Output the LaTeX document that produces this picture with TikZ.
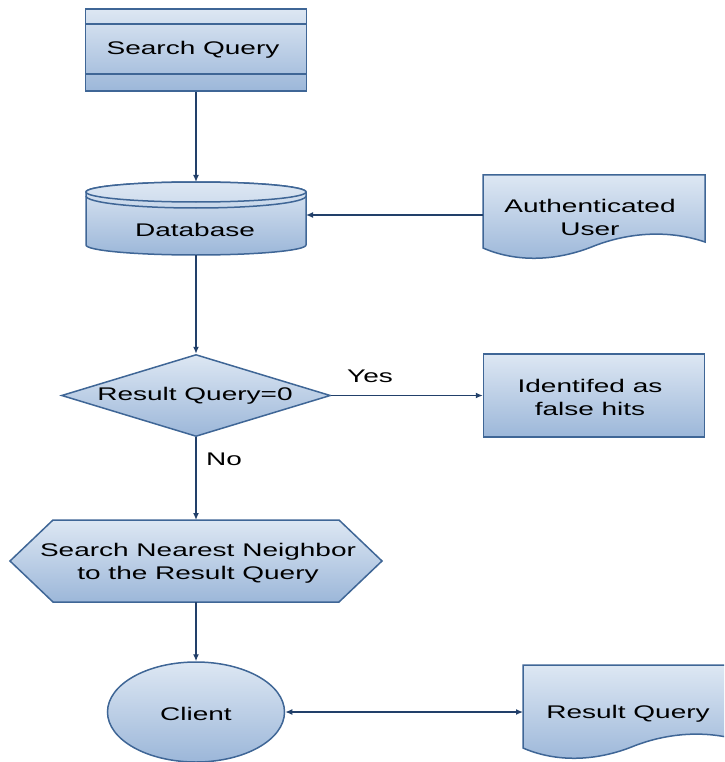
\documentclass[tikz,border=0pt]{standalone}
\usepackage{fontspec}
\setmainfont{Liberation Sans}[FakeStretch=1.53]
\usetikzlibrary{shapes.geometric,arrows.meta,calc}
\definecolor{fillTop}{HTML}{DDE7F3}
\definecolor{fillBot}{HTML}{9CB7D9}
\definecolor{edgecol}{HTML}{3F6696}
\definecolor{conncol}{HTML}{22406A}
\tikzset{
 shapestyle/.style={draw=edgecol, line width=1.5pt, top color=fillTop, bottom color=fillBot},
 edgeline/.style={draw=edgecol, line width=1.5pt},
 lbl/.style={font=\fontsize{18.3}{23}\selectfont, align=center, text=black, inner sep=0, yshift=-2pt},
 ghost/.style={inner sep=0, outer sep=0},
 tip/.tip={Latex[length=7pt,width=6pt]},
 connector/.style={draw=conncol, line width=1.3pt, -tip},
}
\begin{document}
\begin{tikzpicture}[x=1pt,y=-1pt]
\useasboundingbox (0,0) rectangle (724,762);
\clip (0,0) rectangle (724,762);

% Search Query
\node[shapestyle, rectangle, minimum width=221pt, minimum height=82pt, inner sep=0] (sq) at (196,50) {};
\draw[edgeline] ($(sq.north west)+(0,16)$) -- ($(sq.north east)+(0,16)$);
\draw[edgeline] ($(sq.north west)+(0,66)$) -- ($(sq.north east)+(0,66)$);
\node[lbl] (sqt) at (193,48) {Search Query};

% Database
\node[ghost, minimum width=220pt, minimum height=73pt] (db) at (196,218.5) {};
\path[shapestyle] (86,192) -- (86,245) arc[start angle=180, end angle=0, x radius=110, y radius=10] -- (306,192) arc[start angle=0, end angle=-180, x radius=110, y radius=10] -- cycle;
\path[edgeline, top color=fillTop, bottom color=fillTop!80!fillBot] (196,192) ellipse[x radius=110, y radius=10];
\draw[edgeline] (86,196) arc[start angle=180, end angle=0, x radius=110, y radius=12];
\node[lbl] (dbt) at (195,228) {Database};

% Authenticated User (document)
\node[ghost, minimum width=222pt, minimum height=80pt] (au) at (594,215) {};
\path[shapestyle] (483,175) -- (705,175) -- (705,242) .. controls (670,230) and (630,232) .. (594,246) .. controls (555,262) and (515,262) .. (483,248) -- cycle;
\node[lbl] (aut) at (590,215) {Authenticated\\User};

% Decision
\node[diamond, shapestyle, minimum width=269pt, minimum height=82pt, inner sep=0] (dq) at (196,395.5) {};
\node[lbl] (dqt) at (195,394) {Result Query=0};

% Identified
\node[rectangle, shapestyle, minimum width=221pt, minimum height=83pt, inner sep=0] (id) at (594,395.5) {};
\node[lbl] (idt) at (590,395) {Identifed as\\false hits};

% Hexagon
\node[ghost, minimum width=372pt, minimum height=82pt] (hx) at (196,561) {};
\path[shapestyle] (10,561) -- (53,520) -- (339,520) -- (382,561) -- (339,602) -- (53,602) -- cycle;
\node[lbl] (hxt) at (198,561) {Search Nearest Neighbor\\to the Result Query};

% Client
\node[ellipse, shapestyle, minimum width=177pt, minimum height=100pt, inner sep=0] (cl) at (196,712) {};
\node[lbl] (clt) at (196,712) {Client};

% Result Query (document)
\node[ghost, minimum width=222pt, minimum height=96pt] (rq) at (634,712) {};
\path[shapestyle] (523,665) -- (745,665) -- (745,742) .. controls (710,730) and (670,732) .. (634,746) .. controls (595,762) and (555,762) .. (523,748) -- cycle;
\node[lbl] (rqt) at (628,712) {Result Query};

% Connectors
\draw[connector] (sq.south) -- (db.north);
\draw[connector] (au.west) -- (au.west -| db.east);
\draw[connector] (db.south) -- (dq.north);
\draw[connector] (dq.east) -- (id.west);
\node[lbl] (yes) at (370,374) {Yes};
\draw[connector] (dq.south) -- (hx.north);
\node[lbl] (no) at (224,457) {No};
\draw[connector] (hx.south) -- (cl.north);
\draw[connector, tip-tip] (cl.east) -- (cl.east -| rq.west);
\end{tikzpicture}
\end{document}
